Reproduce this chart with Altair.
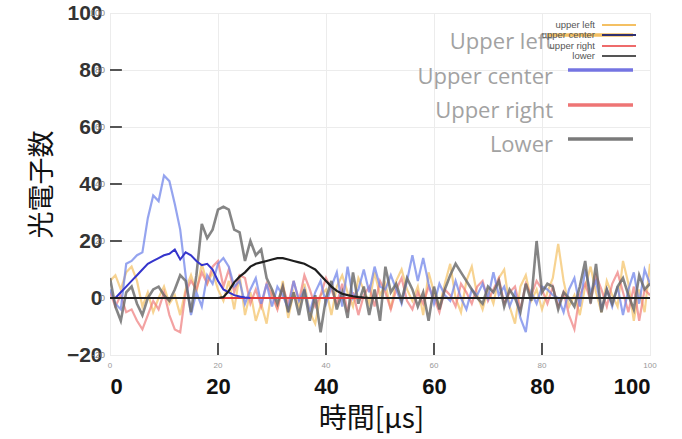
import altair as alt
import pandas as pd

# ---------------- data ----------------
time_us = list(range(101))

upper_left = [6, 8, 3, 9, 11, 6, -3, 2, -5, 0,
              4, -2, 1, -6, 3, 8, 2, 12, 5, 9,
              3, -1, 6, -4, 8, -6, 2, -8, -2, -9,
              3, -4, 6, -7, 2, -3, 5, -5, -9, 1,
              3, -6, 4, 8, 2, -3, 7, 3, -2, 9,
              1, 5, -4, 6, 10, 3, -1, 4, -6, 9,
              2, -3, 5, 12, 0, -5, 6, 11, 1, -4,
              3, -2, 7, 10, -3, -9, 4, 8, -1, 3,
              -4, 2, 7, 19, 6, -3, 1, -6, 4, 11,
              2, -5, 6, 1, -3, 13, 5, -8, 3, -5,
              12]

upper_center = [3, -2, -4, 12, 13, 15, 16, 28, 36, 34,
                43, 41, 33, 24, 8, -6, 2, -3, 8, 5,
                12, 14, 11, 4, 6, -2, 3, 7, -2, 5,
                -3, 4, 1, -4, 6, -1, 3, -5, 2, 6,
                -2, 4, 9, -3, 11, 0, 3, 10, 2, 11,
                4, 3, 8, 3, -2, 6, 15, 6, 14, 5,
                -2, 5, 1, -1, 6, 0, -4, 3, 1, 5,
                0, 9, 1, 4, -3, 2, -7, -12, 2, -2,
                4, 3, 1, 0, -5, 3, 7, -3, 10, 2,
                6, -4, 3, -3, 4, -6, 3, 9, -2, 10,
                5]

upper_right = [2, -3, 1, -5, -4, -8, -11, -6, -1, -4,
               2, -6, -11, -12, 2, 6, 3, 9, 5, 11,
               13, 4, 10, 2, 8, 7, -2, 3, -3, 5,
               1, -4, 4, -2, 6, -1, 8, 3, -3, 1,
               7, 3, -2, 5, -5, 2, -6, 1, 4, -3,
               6, 2, -4, 3, 7, -1, -4, 2, -2, 4,
               0, -5, 3, 1, -3, 5, 2, -2, 4, 6,
               -1, 3, 7, -2, 2, 4, -4, 5, 1, 6,
               3, -2, 4, -3, 2, -6, -11, 1, 5, -1,
               8, 3, -3, 5, 9, 2, -5, 4, -8, 3,
               1]

lower = [7, -3, -8, 2, 4, -2, -6, 0, 3, 4,
         1, -1, 3, 8, 6, -5, 8, 26, 21, 24,
         31, 32, 31, 24, 23, 13, 20, 15, 17, 7,
         3, -2, 4, -5, 2, -6, 3, -8, 1, -12,
         0, 6, -4, 2, -7, 9, -2, 4, -6, 3,
         -8, 11, 2, 5, -1, 7, 3, -3, 2, -8,
         4, -4, 3, 8, 12, 9, 6, 3, 0, -2,
         4, 2, 6, -3, 3, 0, -5, 5, -1, 20,
         2, 5, 4, -4, 2, 0, -3, 4, 13, -2,
         12, -5, 3, -2, 4, 7, 1, -4, 8, 3,
         5]

center_fit_t = list(range(27))
center_fit = [0, 0, 2, 4, 6, 8, 10, 12, 13, 14, 15, 15.5, 17, 13.5, 16, 15,
              13, 11.5, 12, 10, 6, 3, 2, 1, 0.5, 0.2, 0]

lower_fit_t = [0, 20] + list(range(21, 49)) + [100]
lower_fit = [0, 0, 0.3, 2.5, 5.5, 7.5, 9, 11, 12, 12.5, 13, 13.5, 14, 14, 13.5,
             13, 12.5, 12, 11, 10, 8, 6, 4, 2.5, 1.5, 1, 0.6, 0.3, 0.1, 0, 0]

baseline_t = [0, 100]
baseline = [0, 0]

x_ticks = [0, 20, 40, 60, 80, 100]
y_ticks = [-20, 0, 20, 40, 60, 80, 100]
inner_ticks = [20, 40, 60, 80]

small_legend = ["upper left", "upper center", "upper right", "lower"]
big_legend = ["Upper left", "Upper center", "Upper right", "Lower"]

# ---------------- scales / axes ----------------
XS = alt.Scale(domain=[0, 100], nice=False, zero=False)
YS = alt.Scale(domain=[-20, 100], nice=False, zero=False)

AX = alt.Axis(values=x_ticks, title="時間[μs]", labelFont="Liberation Sans",
              labelFontSize=22, labelFontWeight="bold", labelColor="#111",
              labelPadding=21, tickSize=0, domain=False, grid=True,
              gridColor="#ececec", titleFont="Noto Sans CJK JP",
              titleFontSize=28, titleFontWeight="normal", titleColor="#111",
              titleX=261, titleY=64, titleAlign="center", titleBaseline="middle")
AY = alt.Axis(values=y_ticks, title="光電子数", labelFont="Liberation Sans",
              labelFontSize=21, labelFontWeight="bold", labelColor="#333",
              labelPadding=8, tickSize=0, domain=False, grid=True,
              gridColor="#ececec", titleFont="Noto Sans CJK JP",
              titleFontSize=27, titleFontWeight="normal", titleColor="#111",
              titlePadding=10)


def series_line(ts, vs, color, width, opacity=1.0):
    df = pd.DataFrame({"t": ts, "v": vs})
    return alt.Chart(df).mark_line(color=color, strokeWidth=width, opacity=opacity,
                                   clip=True).encode(
        x=alt.X("t:Q", scale=XS, axis=AX),
        y=alt.Y("v:Q", scale=YS, axis=AY),
    )


layers = []
layers.append(series_line(time_us, upper_left, "#f4c063", 2.2, 0.7))
layers.append(series_line(time_us, upper_right, "#ee7b7b", 2.2, 0.7))
layers.append(series_line(time_us, upper_center, "#7286ea", 2.2, 0.75))
layers.append(series_line(time_us, lower, "#666666", 2.6, 0.8))
layers.append(series_line(baseline_t, baseline, "#e03a3a", 2.2))
layers.append(series_line(center_fit_t, center_fit, "#3535cc", 2))
layers.append(series_line(lower_fit_t, lower_fit, "#1e1e1e", 2.2))

# inner ticks (left and bottom)
lt = pd.DataFrame({"v": inner_ticks, "x0": 0, "x1": 2.2})
layers.append(alt.Chart(lt).mark_rule(color="#555", strokeWidth=2).encode(
    x=alt.X("x0:Q", scale=XS, axis=AX), x2="x1:Q",
    y=alt.Y("v:Q", scale=YS, axis=AY)))
bt = pd.DataFrame({"t": inner_ticks, "y0": -20, "y1": -15.8})
layers.append(alt.Chart(bt).mark_rule(color="#555", strokeWidth=2).encode(
    x=alt.X("t:Q", scale=XS, axis=AX),
    y=alt.Y("y0:Q", scale=YS, axis=AY), y2="y1:Q"))

# small grey duplicate tick labels
sx = pd.DataFrame({"t": x_ticks, "v": -20, "lab": [str(v) for v in x_ticks]})
layers.append(alt.Chart(sx).mark_text(fontSize=8, color="#999", dy=11,
                                      baseline="middle", font="Liberation Sans").encode(
    x=alt.X("t:Q", scale=XS, axis=AX), y=alt.Y("v:Q", scale=YS, axis=AY), text="lab:N"))
sy = pd.DataFrame({"t": 0, "v": y_ticks, "lab": [str(v) for v in y_ticks]})
layers.append(alt.Chart(sy).mark_text(fontSize=9, color="#888", dx=-5, align="right",
                                      baseline="middle", font="Liberation Sans").encode(
    x=alt.X("t:Q", scale=XS, axis=AX), y=alt.Y("v:Q", scale=YS, axis=AY), text="lab:N"))


def legend_text(label, x, y, size, color, font):
    return alt.Chart(pd.DataFrame({"label": [label]})).mark_text(
        align="right", baseline="middle", fontSize=size, color=color, font=font
    ).encode(x=alt.value(x), y=alt.value(y), text="label:N")


def legend_line(color, x1, x2, y, width):
    return alt.Chart(pd.DataFrame({"label": ["k"]})).mark_rule(
        color=color, strokeWidth=width).encode(
        x=alt.value(x1), x2=alt.value(x2), y=alt.value(y))


# big overlay legend
big_colors = ["#f4c063", "#7474e2", "#ee7575", "#7a7a7a"]
big_text_y = [29, 64, 98, 132]
big_line_y = [22, 57, 92, 126]
for i, lab in enumerate(big_legend):
    layers.append(legend_text(lab, 443, big_text_y[i], 22, "#a2a2a2", "Open Sans"))
    x1 = 437 if i == 0 else 458
    layers.append(legend_line(big_colors[i], x1, 523, big_line_y[i], 3.5))

# small legend
small_colors = ["#f4c063", "#303070", "#ee6b6b", "#555555"]
small_y = [12, 22, 33, 43]
for i, lab in enumerate(small_legend):
    layers.append(legend_text(lab, 485, small_y[i], 9.5, "#555", "Liberation Sans"))
    layers.append(legend_line(small_colors[i], 492, 526, small_y[i], 2))

chart = alt.layer(*layers).properties(
    width=540, height=342,
    autosize=alt.AutoSizeParams(type="none"),
    padding={"left": 110, "top": 13, "right": 32, "bottom": 84},
).configure_view(stroke="#8a8a8a", strokeWidth=1.5).configure(background="white")

chart.save("out.html", embed_options={"renderer": "svg", "actions": False})
